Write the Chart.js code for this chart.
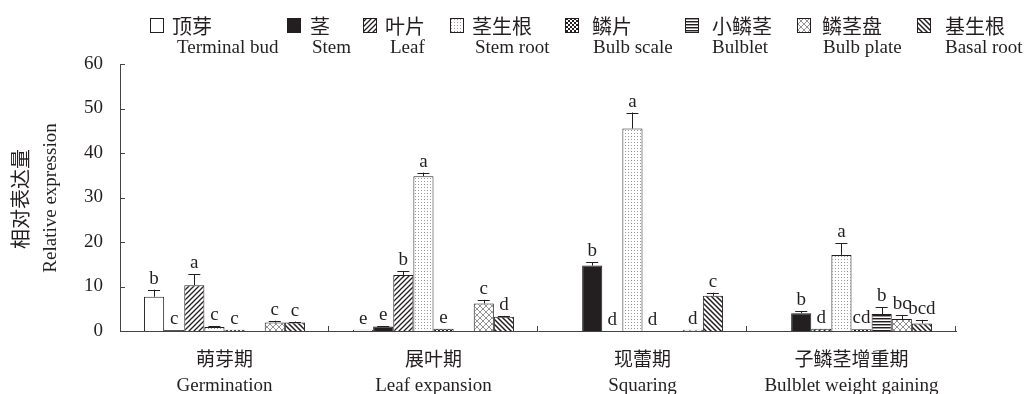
<!DOCTYPE html>
<html>
<head>
<meta charset="utf-8">
<script src="https://cdn.jsdelivr.net/npm/chart.js@4.4.1/dist/chart.umd.min.js"></script>
<style>
html, body { margin: 0; padding: 0; background: #fff; }
#wrap { width: 1030px; height: 394px; }
</style>
</head>
<body>
<div id="wrap"><canvas id="chart" width="1030" height="394"></canvas></div>
<script>
// categories
const stages = [['萌芽期', 'Germination'], ['展叶期', 'Leaf expansion'], ['现蕾期', 'Squaring'], ['子鳞茎增重期', 'Bulblet weight gaining']];
const tissueZh = ['顶芽', '茎', '叶片', '茎生根', '鳞片', '小鳞茎', '鳞茎盘', '基生根'];
const tissueEn = ['Terminal bud', 'Stem', 'Leaf', 'Stem root', 'Bulb scale', 'Bulblet', 'Bulb plate', 'Basal root'];
const yTicks = [0, 10, 20, 30, 40, 50, 60];

// 相対表達量（null = 棒なし）
const terminalBud = [7.7, 0.3, null, null];
const stem = [0.2, 1.0, 14.7, 4.0];
const leaf = [10.3, 12.6, 0, 0.5];
const stemRoot = [0.9, 34.8, 45.5, 17.1];
const bulbScale = [0.3, 0.5, 0, 0.4];
const bulblet = [null, null, null, 3.8];
const bulbPlate = [1.9, 6.2, 0.3, 2.7];
const basalRoot = [1.9, 3.2, 7.9, 1.7];

// エラーバー（上側のみ）
const terminalBudErr = [1.6, 0, null, null];
const stemErr = [0, 0.1, 0.7, 0.5];
const leafErr = [2.4, 0.9, 0, 0];
const stemRootErr = [0.2, 0.8, 3.6, 2.6];
const bulbScaleErr = [0, 0, 0, 0];
const bulbletErr = [null, null, null, 1.5];
const bulbPlateErr = [0.4, 0.8, 0, 0.9];
const basalRootErr = [0.2, 0.2, 0.7, 0.8];

// 有意差の文字
const terminalBudSig = ['b', 'e', '', ''];
const stemSig = ['c', 'e', 'b', 'b'];
const leafSig = ['a', 'b', 'd', 'd'];
const stemRootSig = ['c', 'a', 'a', 'a'];
const bulbScaleSig = ['c', 'e', 'd', 'cd'];
const bulbletSig = ['', '', '', 'b'];
const bulbPlateSig = ['c', 'c', 'd', 'bc'];
const basalRootSig = ['c', 'd', 'c', 'bcd'];

const seriesValues = [terminalBud, stem, leaf, stemRoot, bulbScale, bulblet, bulbPlate, basalRoot];
const seriesErr = [terminalBudErr, stemErr, leafErr, stemRootErr, bulbScaleErr, bulbletErr, bulbPlateErr, basalRootErr];
const seriesSig = [terminalBudSig, stemSig, leafSig, stemRootSig, bulbScaleSig, bulbletSig, bulbPlateSig, basalRootSig];

const INK = '#231f20';
const SERIF = "'Liberation Serif', 'Noto Sans CJK SC', serif";
const CJK = "'Noto Sans CJK SC', sans-serif";

// 塗りパターンを作る
function makePattern(type) {
    const c = document.createElement('canvas');
    const size = {leaf: 5, basal: 5, dots: 3, checker: 4, hlines: 3, cross: 6}[type] || 4;
    c.width = size; c.height = size;
    const g = c.getContext('2d');
    g.fillStyle = '#fff';
    g.fillRect(0, 0, size, size);
    g.strokeStyle = INK;
    g.fillStyle = INK;
    if (type === 'leaf') {
        g.lineWidth = 1.3;
        g.beginPath();
        g.moveTo(-1, size + 1); g.lineTo(size + 1, -1);
        g.moveTo(-1, 1); g.lineTo(1, -1);
        g.moveTo(size - 1, size + 1); g.lineTo(size + 1, size - 1);
        g.stroke();
    } else if (type === 'basal') {
        g.lineWidth = 1.5;
        g.beginPath();
        g.moveTo(-1, -1); g.lineTo(size + 1, size + 1);
        g.moveTo(size - 1, -1); g.lineTo(size + 1, 1);
        g.moveTo(-1, size - 1); g.lineTo(1, size + 1);
        g.stroke();
    } else if (type === 'dots') {
        g.fillStyle = '#9a9a9a';
        g.fillRect(1, 1, 1, 1);
    } else if (type === 'checker') {
        g.fillRect(0, 0, 2, 2);
        g.fillRect(2, 2, 2, 2);
    } else if (type === 'hlines') {
        g.fillRect(0, 0, size, 1);
        g.fillStyle = 'rgba(35,31,32,0.45)';
        g.fillRect(0, 1, size, 1);
    } else if (type === 'cross') {
        g.strokeStyle = '#777';
        g.lineWidth = 0.8;
        g.beginPath();
        g.moveTo(0, 0); g.lineTo(size, size);
        g.moveTo(size, 0); g.lineTo(0, size);
        g.stroke();
    }
    return g.createPattern(c, 'repeat');
}

const fills = ['#ffffff', INK, makePattern('leaf'), makePattern('dots'), makePattern('checker'), makePattern('hlines'), makePattern('cross'), makePattern('basal')];

// 凡例の配置
const legendSwatchX = [150, 287, 363, 450, 565, 685, 797, 917];
const legendZhX = [172, 310, 385, 472, 592, 712, 822, 945];
const legendEnX = [177, 312, 390, 475, 593, 712, 823, 945];

const decor = {
    id: 'decor',
    afterDatasetsDraw(chart) {
        const ctx = chart.ctx;
        const yScale = chart.scales.y;
        ctx.save();
        chart.data.datasets.forEach((ds, i) => {
            const meta = chart.getDatasetMeta(i);
            meta.data.forEach((bar, j) => {
                const v = ds.data[j];
                if (v === null || v === undefined) return;
                const e = seriesErr[i][j] || 0;
                const topY = yScale.getPixelForValue(v + e);
                if (e > 0) {
                    ctx.strokeStyle = INK;
                    ctx.lineWidth = 1;
                    ctx.beginPath();
                    ctx.moveTo(Math.round(bar.x) + 0.5, bar.y);
                    ctx.lineTo(Math.round(bar.x) + 0.5, topY);
                    ctx.moveTo(bar.x - 6, Math.round(topY) + 0.5);
                    ctx.lineTo(bar.x + 6, Math.round(topY) + 0.5);
                    ctx.stroke();
                }
                const sig = seriesSig[i][j];
                if (sig) {
                    ctx.fillStyle = INK;
                    ctx.font = '19px ' + SERIF;
                    ctx.textAlign = 'center';
                    ctx.textBaseline = 'alphabetic';
                    ctx.fillText(sig, bar.x, topY - 6);
                }
            });
        });
        ctx.restore();
    },
    afterDraw(chart) {
        const ctx = chart.ctx;
        const area = chart.chartArea;
        const yScale = chart.scales.y;
        ctx.save();
        ctx.strokeStyle = '#444';
        ctx.lineWidth = 1;
        ctx.beginPath();
        // y軸の目盛り（内向き）
        yTicks.forEach(t => {
            const py = Math.round(yScale.getPixelForValue(t)) + 0.5;
            ctx.moveTo(area.left, py);
            ctx.lineTo(area.left + 5, py);
        });
        // x軸の区切り目盛り（内向き）
        const w = (area.right - area.left) / stages.length;
        for (let k = 1; k <= stages.length; k++) {
            const px = Math.round(area.left + w * k) - 0.5;
            ctx.moveTo(px, area.bottom);
            ctx.lineTo(px, area.bottom - 5);
        }
        ctx.stroke();

        // y軸タイトル
        ctx.fillStyle = INK;
        ctx.textAlign = 'center';
        ctx.textBaseline = 'middle';
        ctx.save();
        ctx.translate(20, 199);
        ctx.rotate(-Math.PI / 2);
        ctx.font = '20px ' + CJK;
        ctx.fillText('相对表达量', 0, 0);
        ctx.restore();
        ctx.save();
        ctx.translate(51, 198);
        ctx.rotate(-Math.PI / 2);
        ctx.font = '19px ' + SERIF;
        ctx.fillText('Relative expression', 0, 0);
        ctx.restore();

        // 凡例
        ctx.textAlign = 'left';
        tissueZh.forEach((zh, i) => {
            const sx = legendSwatchX[i];
            ctx.fillStyle = fills[i];
            ctx.fillRect(sx, 18, 14, 15);
            ctx.strokeStyle = INK;
            ctx.lineWidth = 1;
            ctx.strokeRect(sx + 0.5, 18.5, 13, 14);
            ctx.fillStyle = INK;
            ctx.font = '20px ' + CJK;
            ctx.textBaseline = 'middle';
            ctx.fillText(zh, legendZhX[i], 26);
            ctx.font = '19px ' + SERIF;
            ctx.fillText(tissueEn[i], legendEnX[i], 48);
        });
        ctx.restore();
    }
};

const datasets = seriesValues.map((vals, i) => ({
    label: tissueEn[i],
    data: vals,
    backgroundColor: fills[i],
    borderColor: INK,
    borderWidth: 1,
    barPercentage: 1.0,
    categoryPercentage: 0.77
}));

new Chart(document.getElementById('chart').getContext('2d'), {
    type: 'bar',
    data: { labels: stages, datasets: datasets },
    plugins: [decor],
    options: {
        responsive: false,
        animation: false,
        layout: { padding: { top: 64, right: 74, left: 0, bottom: 0 } },
        plugins: { legend: { display: false }, tooltip: { enabled: false } },
        scales: {
            x: {
                grid: { display: false },
                border: { display: true, color: '#444', width: 1 },
                ticks: {
                    color: INK,
                    padding: 9,
                    maxRotation: 0,
                    autoSkip: false,
                    font: { family: SERIF, size: 19, lineHeight: 1.32 }
                },
                afterFit: scale => { scale.height = 63; }
            },
            y: {
                min: 0,
                max: 60,
                afterBuildTicks: scale => { scale.ticks = yTicks.map(v => ({ value: v })); },
                grid: { display: false },
                border: { display: true, color: '#444', width: 1 },
                ticks: {
                    color: INK,
                    padding: 9,
                    font: { family: SERIF, size: 19 }
                },
                afterFit: scale => { scale.width = 120; }
            }
        }
    }
});
</script>
</body>
</html>
